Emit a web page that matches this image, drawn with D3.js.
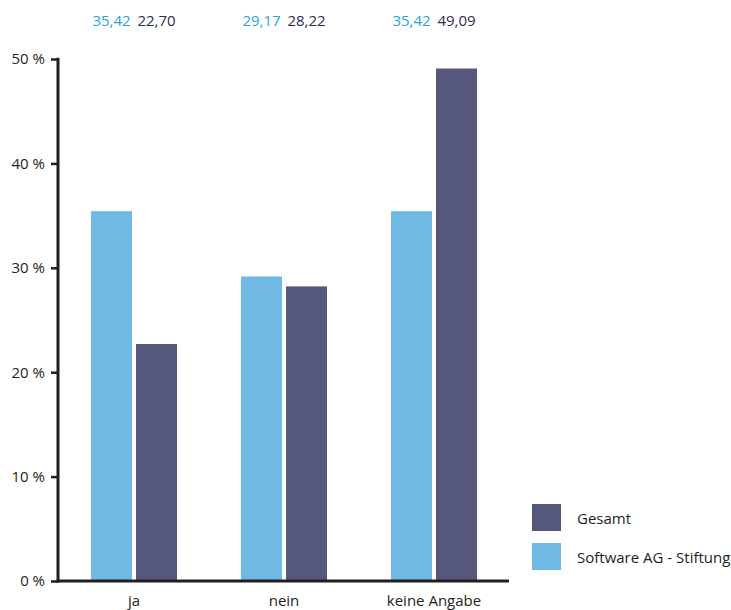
<!DOCTYPE html>
<html>
<head>
<meta charset="utf-8">
<script src="https://cdn.jsdelivr.net/npm/d3@7"></script>
<style>
  html, body { margin: 0; padding: 0; background: #fff; }
  svg { display: block; font-family: "Open Sans", "Noto Sans", sans-serif; }
</style>
</head>
<body>
<svg id="chart" width="731" height="610"></svg>
<script>
// Antworten je Kategorie (Prozent)
const categories = ["ja", "nein", "keine Angabe"];
const seriesNames = ["Software AG - Stiftung", "Gesamt"];
const stiftungValues = [35.42, 29.17, 35.42];
const gesamtValues = [22.70, 28.22, 49.09];
const yTicks = [0, 10, 20, 30, 40, 50];

const colors = { "Software AG - Stiftung": "#6fb9e4", "Gesamt": "#55577d" };
const labelColors = { "Software AG - Stiftung": "#2ba3dc", "Gesamt": "#2b2e52" };
const fontSize = 15;

const svg = d3.select("#chart");
const fmt = v => d3.format(".2f")(v).replace(".", ",");

const x0 = d3.scaleBand().domain(categories).range([59, 509]);
const x1 = d3.scaleBand().domain(seriesNames).range([0, 86]).paddingInner(4 / 45);
const y = d3.scaleLinear().domain([0, 50]).range([581, 59]);

const rows = categories.map((c, i) => ({
  category: c,
  values: [
    { series: seriesNames[0], value: stiftungValues[i] },
    { series: seriesNames[1], value: gesamtValues[i] }
  ]
}));

// Balken
const groups = svg.append("g").selectAll("g").data(rows).join("g")
  .attr("transform", d => `translate(${x0(d.category) + x0.bandwidth() / 2 - 43},0)`);

groups.selectAll("rect").data(d => d.values).join("rect")
  .attr("x", d => x1(d.series))
  .attr("y", d => y(d.value))
  .attr("width", x1.bandwidth())
  .attr("height", d => y(0) - y(d.value))
  .attr("fill", d => colors[d.series]);

// Werte oberhalb des Diagramms
groups.selectAll("text.val").data(d => d.values).join("text")
  .attr("class", "val")
  .attr("x", d => x1(d.series) + x1.bandwidth() / 2)
  .attr("y", 26)
  .attr("text-anchor", "middle")
  .attr("font-size", fontSize)
  .attr("fill", d => labelColors[d.series])
  .text(d => fmt(d.value));

// Y-Achse
const yAxis = svg.append("g").attr("transform", "translate(58,0)")
  .call(d3.axisLeft(y).tickValues(yTicks).tickSize(7).tickPadding(6)
    .tickFormat(d => d + " %"));
yAxis.select(".domain").remove();
yAxis.selectAll(".tick line").attr("stroke", "#231f20").attr("stroke-width", 2.5);
yAxis.selectAll(".tick text").attr("font-size", fontSize).attr("fill", "#231f20")
  .attr("font-family", "\"Open Sans\", sans-serif");
svg.append("line").attr("x1", 58).attr("x2", 58).attr("y1", y(50) - 1.25).attr("y2", y(0) + 1.5)
  .attr("stroke", "#231f20").attr("stroke-width", 3);

// X-Achse
svg.append("line").attr("x1", 56.5).attr("x2", 509).attr("y1", y(0)).attr("y2", y(0))
  .attr("stroke", "#231f20").attr("stroke-width", 3);
svg.append("g").selectAll("text").data(categories).join("text")
  .attr("x", d => x0(d) + x0.bandwidth() / 2)
  .attr("y", 606)
  .attr("text-anchor", "middle")
  .attr("font-size", fontSize)
  .attr("fill", "#231f20")
  .text(d => d);

// Legende
const legendItems = ["Gesamt", "Software AG - Stiftung"];
const legend = svg.append("g").selectAll("g").data(legendItems).join("g")
  .attr("transform", (d, i) => `translate(532,${504 + i * 39})`);
legend.append("rect").attr("width", 29).attr("height", 27).attr("fill", d => colors[d]);
legend.append("text").attr("x", 45).attr("y", 20).attr("font-size", fontSize)
  .attr("fill", "#231f20").text(d => d);
</script>
</body>
</html>
